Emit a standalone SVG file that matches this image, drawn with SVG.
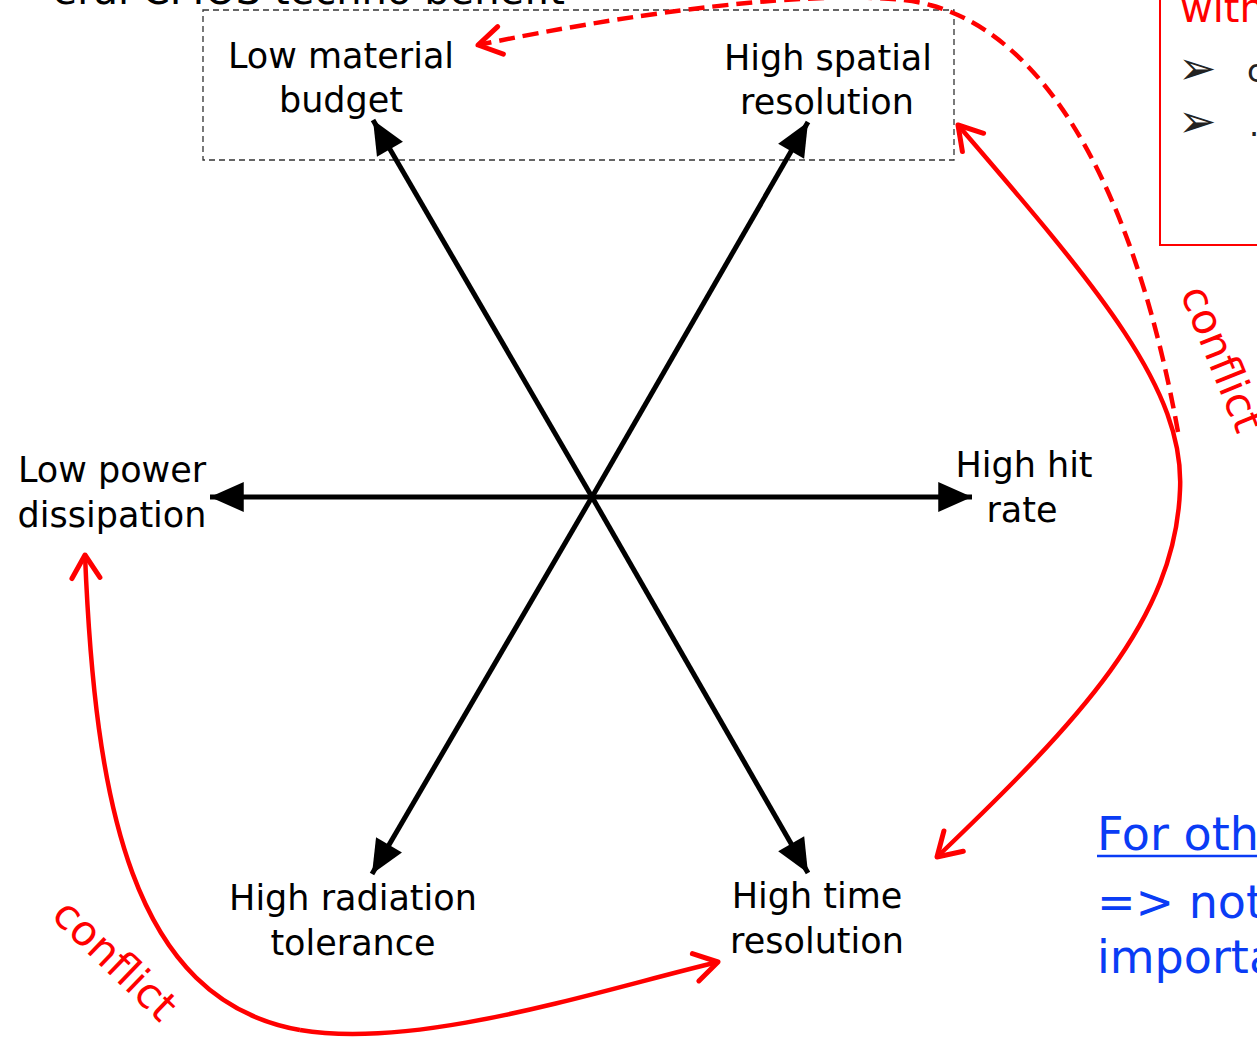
<svg xmlns="http://www.w3.org/2000/svg" width="1257" height="1038" viewBox="0 0 1257 1038">
<style>
  .lbl { font-family: "DejaVu Sans", "Liberation Sans", sans-serif; font-size: 35px; fill: #000; text-anchor: middle; }
  .axis { stroke: #000; stroke-width: 5; fill: none; marker-end: url(#blk); }
  .red { stroke: #ff0000; stroke-width: 4.5; fill: none; marker-end: url(#redv); }
  .redtxt { font-family: "DejaVu Sans", "Liberation Sans", sans-serif; font-size: 42px; fill: #ff0000; }
  .blue { font-family: "DejaVu Sans", "Liberation Sans", sans-serif; font-size: 46px; fill: #0a3cf5; }
  .bul { font-family: "DejaVu Sans", sans-serif; font-size: 46px; fill: #222; }
</style>
<defs>
  <marker id="blk" markerUnits="userSpaceOnUse" markerWidth="40" markerHeight="40" viewBox="-30 -15 32 30" refX="0" refY="0" orient="auto">
    <path d="M0,0 L-27,-12 L-27,12 Z" fill="#000"/>
  </marker>
  <marker id="redv" markerUnits="userSpaceOnUse" markerWidth="44" markerHeight="44" viewBox="-32 -22 36 44" refX="0" refY="0" orient="auto">
    <path d="M-23,-14 L0,0 L-23,14" fill="none" stroke="#ff0000" stroke-width="5" stroke-linecap="round" stroke-linejoin="round"/>
  </marker>
</defs>
<rect width="1257" height="1038" fill="#fff"/>

<g id="title">
  <text x="565" y="4" text-anchor="end" style="font-family:'DejaVu Sans',sans-serif;font-size:40px;fill:#000">eral CMOS techno benefit</text>
</g>

<g id="side-box">
  <rect x="1160" y="-10" width="120" height="255" fill="none" stroke="#ff0000" stroke-width="2"/>
  <text x="1180" y="22" class="redtxt" style="font-size:40px">with</text>
  <text x="1178" y="84" class="bul">➢</text>
  <text x="1178" y="137" class="bul">➢</text>
  <text x="1247" y="82" style="font-family:'DejaVu Sans',sans-serif;font-size:32px;fill:#222">c</text>
  <text x="1249" y="136" style="font-family:'DejaVu Sans',sans-serif;font-size:32px;fill:#222">.</text>
</g>

<g id="group-box">
  <rect x="203" y="10" width="751" height="150" fill="none" stroke="#333" stroke-width="1.3" stroke-dasharray="6,4"/>
</g>

<g id="connectors">
  <line class="axis" x1="592" y1="497" x2="373" y2="120"/>
  <line class="axis" x1="592" y1="497" x2="808" y2="122"/>
  <line class="axis" x1="592" y1="497" x2="210" y2="497"/>
  <line class="axis" x1="592" y1="497" x2="972" y2="497"/>
  <line class="axis" x1="592" y1="497" x2="372" y2="874"/>
  <line class="axis" x1="592" y1="497" x2="808" y2="873"/>
  <path class="red" stroke-width="5" stroke-dasharray="16,8" d="M1178,432 C1140,220 1060,40 930,5 C880,-10 720,-5 478,45"/>
  <path class="red" d="M1180,490 C1185,390 1100,290 958,125"/>
  <path class="red" d="M1180,490 C1175,620 1080,720 937,857"/>
  <path class="red" d="M300,1030 C130,1000 95,800 85,555"/>
  <path class="red" d="M300,1030 C420,1050 600,990 718,962"/>
</g>

<g id="n-material"><text class="lbl" x="341" y="68">Low material</text><text class="lbl" x="341" y="112">budget</text></g>
<g id="n-spatial"><text class="lbl" x="828" y="70">High spatial</text><text class="lbl" x="827" y="114">resolution</text></g>
<g id="n-power"><text class="lbl" x="112" y="482">Low power</text><text class="lbl" x="112" y="527">dissipation</text></g>
<g id="n-hitrate"><text class="lbl" x="1024" y="477">High hit</text><text class="lbl" x="1022" y="522">rate</text></g>
<g id="n-radiation"><text class="lbl" x="353" y="910">High radiation</text><text class="lbl" x="353" y="955">tolerance</text></g>
<g id="n-time"><text class="lbl" x="817" y="908">High time</text><text class="lbl" x="817" y="953">resolution</text></g>

<g id="conflict-labels">
  <text class="redtxt" transform="translate(1180,293) rotate(68)">conflict</text>
  <text class="redtxt" transform="translate(50,917) rotate(44)">conflict</text>
</g>

<g id="note">
  <text class="blue" x="1097" y="850">For oth</text>
  <line x1="1097" y1="856" x2="1260" y2="856" stroke="#0a3cf5" stroke-width="2.5"/>
  <text class="blue" x="1097" y="918">=&gt; not</text>
  <text class="blue" x="1097" y="973">importa</text>
</g>
</svg>
